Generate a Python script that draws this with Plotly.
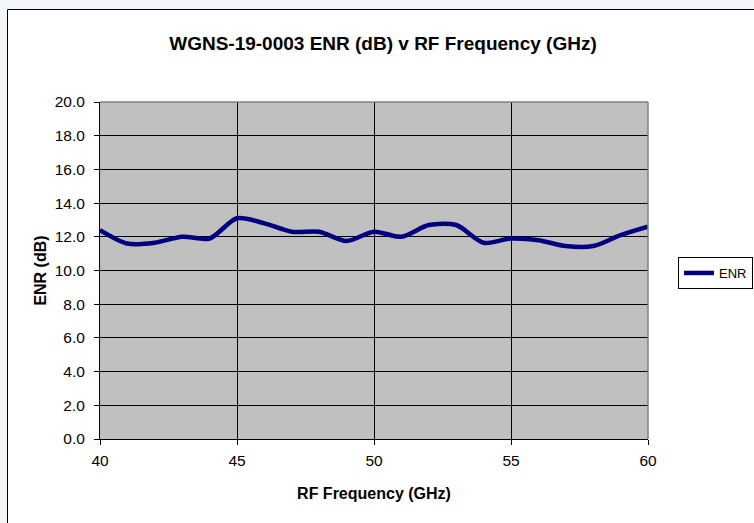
import plotly.graph_objects as go

freq_ghz = [40, 41, 42, 43, 44, 45, 46, 47, 48, 49, 50, 51, 52, 53, 54, 55, 56, 57, 58, 59, 60]
enr_db = [12.4, 11.6, 11.65, 12.0, 11.9, 13.1, 12.8, 12.3, 12.3, 11.75, 12.3, 12.0, 12.7, 12.7, 11.65, 11.9, 11.8, 11.45, 11.45, 12.1, 12.6]
x_ticks = [40, 45, 50, 55, 60]
y_ticks = [0, 2, 4, 6, 8, 10, 12, 14, 16, 18, 20]

W, H = 754, 523
L, R, T, B = 100, 648, 102, 439

def px(x):
    return (x - L) / (R - L)

def py(y):
    return (B - y) / (B - T)

fig = go.Figure()
fig.add_trace(go.Scatter(
    x=freq_ghz, y=enr_db, mode="lines", name="ENR",
    line=dict(color="#000080", width=4.5, shape="spline", smoothing=0.8),
))

font = "Liberation Sans, Arial, sans-serif"
fig.update_layout(
    width=W, height=H,
    margin=dict(l=L, r=W - R, t=T, b=H - B, pad=0, autoexpand=False),
    paper_bgcolor="white",
    plot_bgcolor="#c0c0c0",
    font=dict(family=font, size=15, color="black"),
    title=dict(text="<b>WGNS-19-0003 ENR (dB) v RF Frequency (GHz)</b>",
               x=px(383), xref="paper", xanchor="center",
               y=1 - 43 / H, yanchor="middle",
               font=dict(family=font, size=19, color="black")),
    showlegend=True,
    legend=dict(x=px(678), y=py(257), xanchor="left", yanchor="top",
                bgcolor="white", bordercolor="black", borderwidth=1,
                font=dict(family=font, size=13, color="black"),
                itemwidth=30, tracegroupgap=0),
    xaxis=dict(range=[40, 60], tickvals=x_ticks, ticktext=[str(v) for v in x_ticks],
               showgrid=True, gridcolor="black", gridwidth=1,
               showline=True, linecolor="black", linewidth=1,
               ticks="outside", ticklen=5, tickcolor="black",
               ticklabelstandoff=2,
               zeroline=False, tickfont=dict(size=15.5),
               title=dict(text="<b>RF Frequency (GHz)</b>", standoff=20,
                          font=dict(family=font, size=16))),
    yaxis=dict(range=[0, 20], tickvals=y_ticks, ticktext=[f"{v:.1f}" for v in y_ticks],
               showgrid=True, gridcolor="black", gridwidth=1,
               showline=True, linecolor="black", linewidth=1,
               ticks="outside", ticklen=5, tickcolor="black",
               ticklabelstandoff=6,
               zeroline=False, tickfont=dict(size=15.5),
               title=dict(text="<b>ENR (dB)</b>", standoff=4,
                          font=dict(family=font, size=16))),
    shapes=[
        dict(type="rect", xref="paper", yref="paper", x0=px(-5), x1=px(7.5), y0=py(H + 5), y1=py(-5),
             fillcolor="#f3f6f8", line=dict(width=0), layer="below"),
        dict(type="rect", xref="paper", yref="paper", x0=px(-5), x1=px(W + 5), y0=py(9.5), y1=py(-5),
             fillcolor="#f3f6f8", line=dict(width=0), layer="below"),
        dict(type="rect", xref="paper", yref="paper", x0=px(7.5), x1=px(W + 10), y0=py(H + 10), y1=py(9.5),
             fillcolor="rgba(0,0,0,0)", line=dict(color="black", width=1), layer="above"),
        dict(type="line", xref="paper", yref="paper", x0=0, x1=1, y0=1, y1=1,
             line=dict(color="#808080", width=1.5), layer="above"),
        dict(type="line", xref="paper", yref="paper", x0=1, x1=1, y0=0, y1=1,
             line=dict(color="#808080", width=1.5), layer="above"),
    ],
)

fig.write_html("out.html", config={"displayModeBar": False},
               post_script="document.body.style.margin='0';document.body.style.padding='0';")
